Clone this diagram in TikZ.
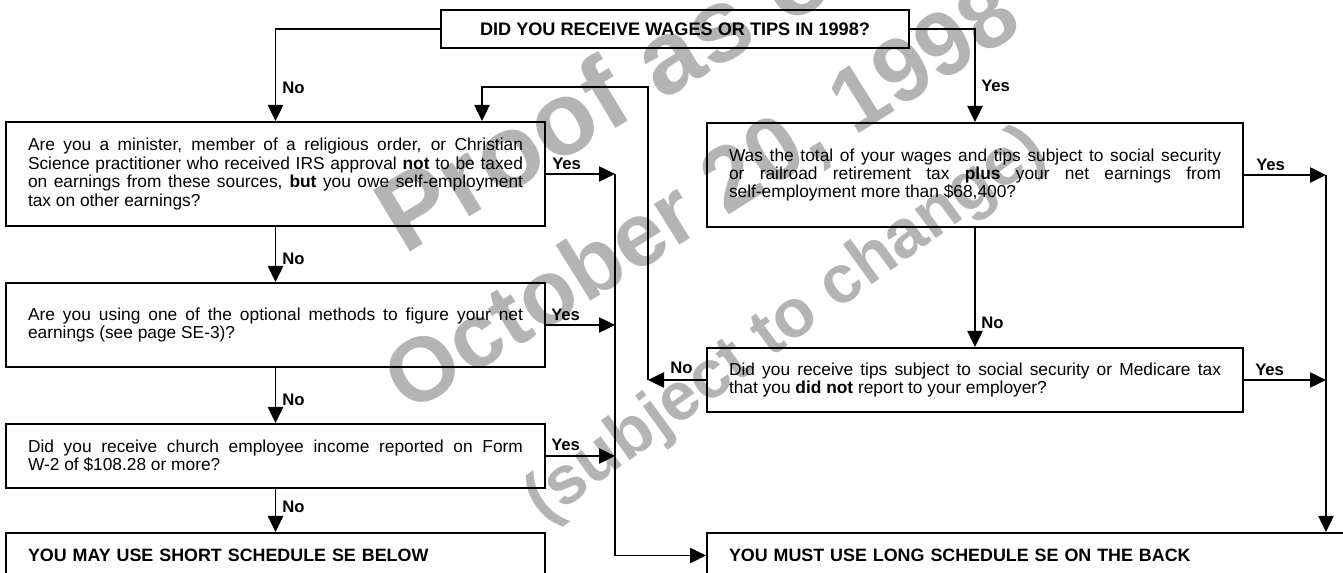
\documentclass[tikz,border=0pt]{standalone}
\usepackage{fontspec}
\setmainfont{Liberation Sans}
\newfontfamily\wmfont{Liberation Sans}
\usetikzlibrary{arrows.meta}
\definecolor{wmgray}{RGB}{180,180,180}
\tikzset{
  qbox/.style={draw, line width=1.5pt, inner xsep=16.5pt, inner ysep=0pt,
    align=justify, font=\fontsize{13}{13.8}\selectfont,
    execute at begin node={\tolerance=10000\hbadness=10000\hyphenpenalty=10000}},
  lbox/.style={qbox, text width=371.25pt},
  rbox/.style={qbox, text width=369pt},
  endbox/.style={draw, line width=1.5pt, inner xsep=16.5pt, inner ysep=0pt, align=left,
    font=\fontsize{13.4}{14}\selectfont\bfseries},
  conn/.style={line width=1pt},
  arr/.style={conn, -{Triangle[length=12pt,width=11.5pt]}},
  lbl/.style={font=\fontsize{12.5}{13}\selectfont\bfseries, inner sep=0pt, anchor=west},
  wm/.style={text=wmgray, font=\wmfont\bfseries, inner sep=0pt}
}
\begin{document}
\begin{tikzpicture}[x=0.75pt,y=-0.75pt]
\useasboundingbox (0,0) rectangle (1343,573);
\clip (0,0) rectangle (1343,573);
% watermark
\node[wm, rotate=31, font=\wmfont\bfseries\fontsize{78}{80}\selectfont] (wm1) at (618,84) {Proof as of};
\node[wm, rotate=32, font=\wmfont\bfseries\fontsize{68}{72}\selectfont] (wm2) at (704,200) {October 20, 1998};
\node[wm, rotate=36, font=\wmfont\bfseries\fontsize{51}{56}\selectfont] (wm3) at (786,326) {(subject to change)};
% boxes
\node[draw, line width=1.5pt, minimum width=351pt, minimum height=28.5pt, inner sep=0pt,
  font=\fontsize{13.6}{14}\selectfont\bfseries] (top) at (675,29) {DID YOU RECEIVE WAGES OR TIPS IN 1998?};
\node[lbox, minimum height=78pt] (L1) at (275.5,174) {Are you a minister, member of a religious order, or Christian\linebreak Science practitioner who received IRS approval \textbf{not} to be taxed\linebreak on earnings from these sources, \textbf{but} you owe self-employment\linebreak tax on other earnings?};
\node[lbox, minimum height=63pt] (L2) at (275.5,325) {Are you using one of the optional methods to figure your net\linebreak earnings (see page SE-3)?};
\node[lbox, minimum height=48pt] (L3) at (275.5,456) {Did you receive church employee income reported on Form\linebreak W-2 of \$108.28 or more?};
\node[endbox, text width=371.25pt, minimum height=33.75pt] (L4) at (275.5,555.5) {YOU MAY USE SHORT SCHEDULE SE BELOW};
\node[rbox, minimum height=78pt] (R1) at (975,175) {Was the total of your wages and tips subject to social security\linebreak or railroad retirement tax \textbf{plus} your net earnings from\linebreak self-employment more than \$68,400?};
\node[rbox, minimum height=48pt] (R2) at (975,380) {Did you receive tips subject to social security or Medicare tax\linebreak that you \textbf{did not} report to your employer?};
\node[endbox, text width=471.75pt, minimum height=33.75pt] (long) at (1043.5,555.5) {YOU MUST USE LONG SCHEDULE SE ON THE BACK};
% bus coordinates
\coordinate (busL) at (615,0);
\coordinate (busM) at (648,87);
\coordinate (L1in) at (482,0);
\coordinate (busR) at (1326,0);
% connectors
\draw[arr] (top.west) -| (L1.north);
\draw[arr] (top.east) -| (R1.north);
\draw[arr] (L1.south) -- (L2.north);
\draw[arr] (L2.south) -- (L3.north);
\draw[arr] (L3.south) -- (L4.north);
\draw[arr] (R1.south) -- (R2.north);
\draw[arr] (L1.east) -- (L1.east -| busL);
\draw[arr] (L2.east) -- (L2.east -| busL);
\draw[arr] (L3.east) -- (L3.east -| busL);
\draw[arr] (L1.east -| busL) |- (long.west);
\draw[arr] (R2.west) -- (R2.west -| busM);
\draw[arr] (R2.west -| busM) -- (busM) -| (L1in |- L1.north);
\draw[arr] (R1.east) -- (R1.east -| busR);
\draw[arr] (R2.east) -- (R2.east -| busR);
\draw[arr] (R1.east -| busR) -- (busR |- long.north);
% labels
\node[lbl] (n0) at (282,88) {No};
\node[lbl] (y0) at (981,86) {Yes};
\node[lbl] (n1) at (282,259) {No};
\node[lbl] (n2) at (282,400) {No};
\node[lbl] (n3) at (282,507) {No};
\node[lbl] (n4) at (981,323) {No};
\node[lbl] (y1) at (552,164) {Yes};
\node[lbl] (y2) at (551,315) {Yes};
\node[lbl] (y3) at (551,445) {Yes};
\node[lbl] (y4) at (1256,165) {Yes};
\node[lbl] (y5) at (1255,370) {Yes};
\node[lbl] (n5) at (670,368) {No};
\end{tikzpicture}
\end{document}
